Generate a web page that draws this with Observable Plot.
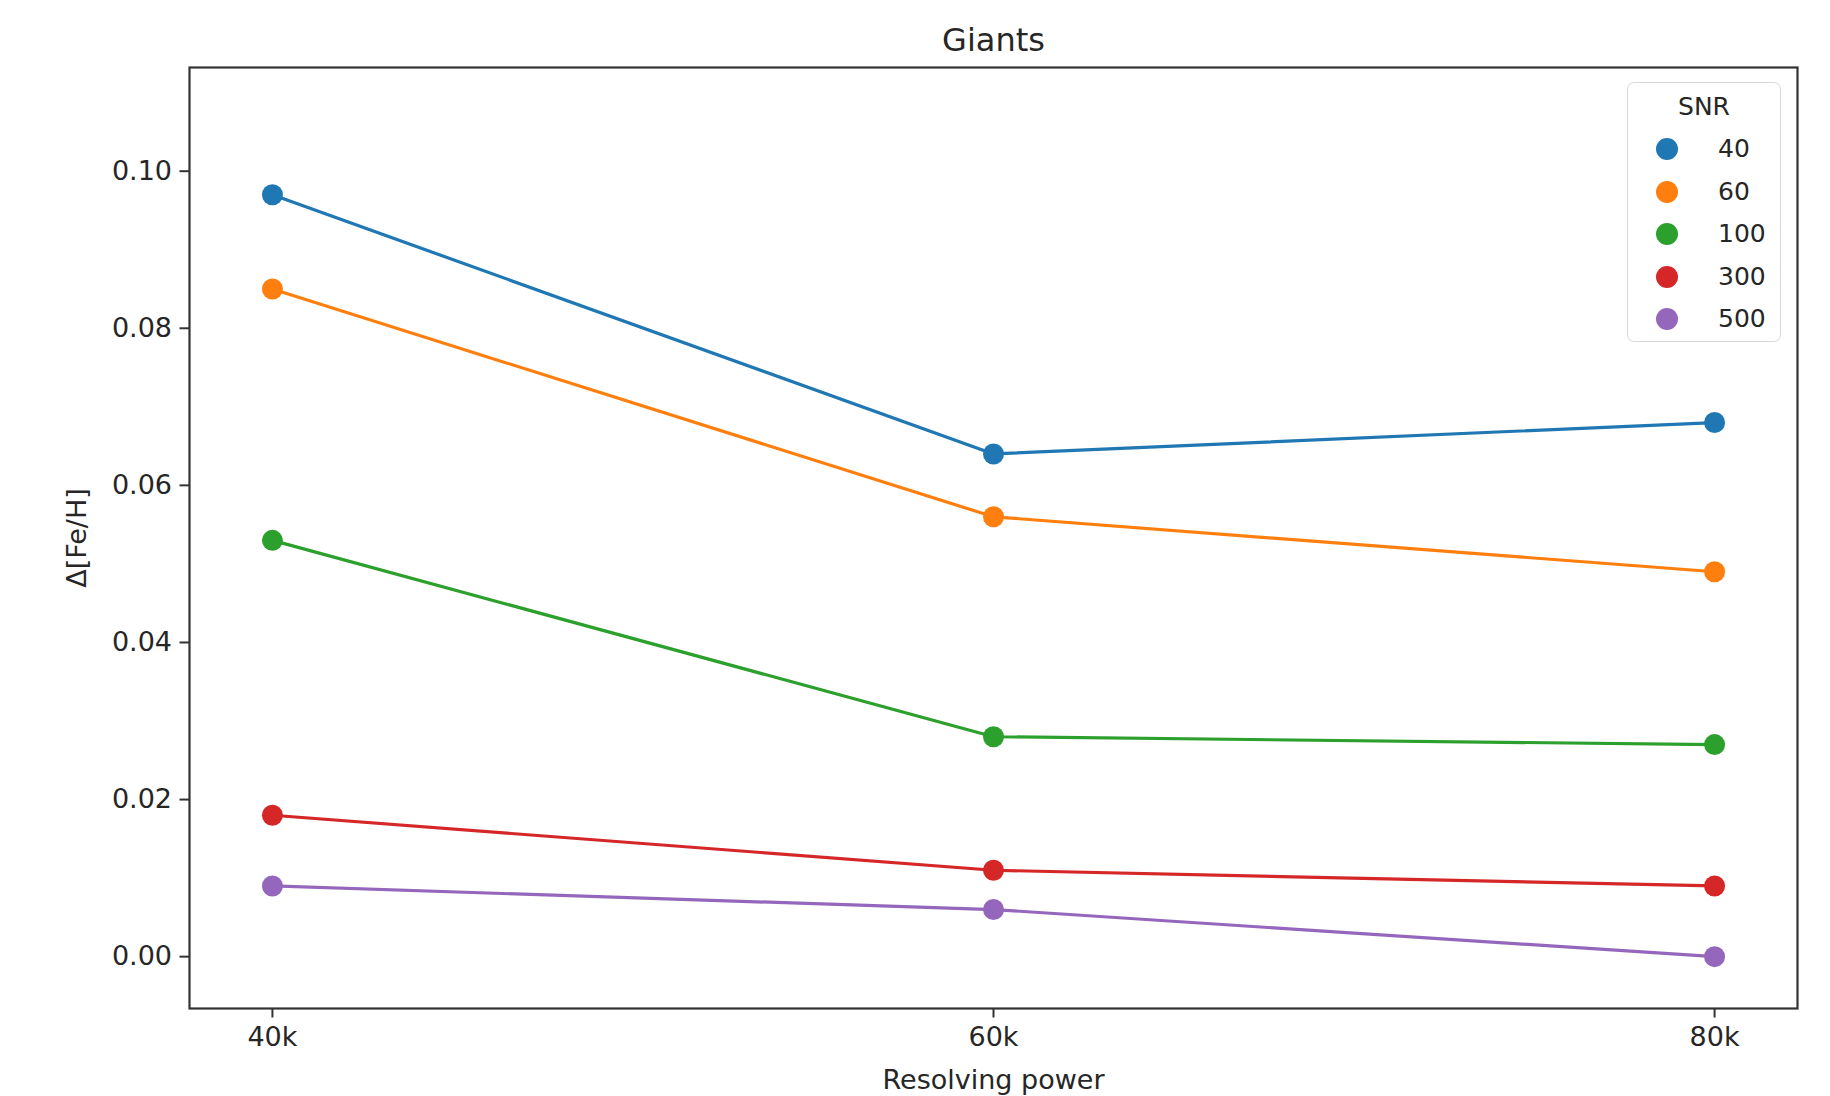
<!DOCTYPE html>
<html>
<head>
<meta charset="utf-8">
<script src="https://cdn.jsdelivr.net/npm/d3@7"></script>
<script src="https://cdn.jsdelivr.net/npm/@observablehq/plot@0.6"></script>
<style>
  html, body { margin: 0; padding: 0; background: #fff; }
  #wrap { position: relative; width: 1830px; height: 1096px; font-family: "DejaVu Sans", sans-serif; }
  #legend { position: absolute; left: 1627px; top: 82px; width: 154px; height: 260px;
    border: 1.5px solid #d6d6d6; border-radius: 7px; background: rgba(255,255,255,0.85); box-sizing: border-box; }
  #legend .ttl { position: absolute; left: 0; right: 0; top: 10px; text-align: center; font-size: 25px; color: #262626; line-height: 28px; }
  #legend .item { position: absolute; left: 0; right: 0; height: 30px; line-height: 30px; font-size: 25px; color: #262626; }
  #legend .dot { position: absolute; left: 28px; top: 4px; width: 22px; height: 22px; border-radius: 50%; }
  #legend .lab { position: absolute; left: 90px; }
</style>
</head>
<body>
<div id="wrap"><div id="legend"></div></div>
<script>
const resolvingPower = [40, 60, 80];
const xTickLabels = ["40k", "60k", "80k"];
const snrLevels = ["40", "60", "100", "300", "500"];
const colors = ["#1f77b4", "#ff7f0e", "#2ca02c", "#d62728", "#9467bd"];
const snr40  = [0.097, 0.064, 0.068];
const snr60  = [0.085, 0.056, 0.049];
const snr100 = [0.053, 0.028, 0.027];
const snr300 = [0.018, 0.011, 0.009];
const snr500 = [0.009, 0.006, 0.000];
const yTicks = [0, 0.02, 0.04, 0.06, 0.08, 0.10];

const seriesValues = [snr40, snr60, snr100, snr300, snr500];
const data = [];
snrLevels.forEach((s, i) => seriesValues[i].forEach((v, j) => data.push({snr: s, R: resolvingPower[j], dfe: v})));

const FONT = "DejaVu Sans";
const chart = Plot.plot({
  width: 1830,
  height: 1096,
  marginLeft: 189,
  marginRight: 33,
  marginTop: 67,
  marginBottom: 88,
  style: {fontFamily: FONT, fontSize: "27px", color: "#262626", background: "#fff"},
  x: {domain: [37700, 82300].map(d => d / 1000), ticks: resolvingPower, tickFormat: (d, i) => xTickLabels[resolvingPower.indexOf(d)]},
  y: {domain: [-0.0066, 0.1132], ticks: yTicks, tickFormat: d3.format(".2f")},
  color: {domain: snrLevels, range: colors},
  marks: [
    Plot.frame({stroke: "#333", strokeWidth: 2.2}),
    Plot.axisX({ticks: resolvingPower, tickFormat: (d) => xTickLabels[resolvingPower.indexOf(d)], tickSize: 9.5, tickPadding: 9, stroke: "#333", strokeWidth: 2, fontSize: 27, label: "Resolving power", labelAnchor: "center", labelOffset: 80, labelArrow: "none"}),
    Plot.axisY({ticks: yTicks, tickFormat: d3.format(".2f"), tickSize: 9.5, tickPadding: 8, stroke: "#333", strokeWidth: 2, fontSize: 27, label: "Δ[Fe/H]", labelAnchor: "center", labelOffset: 123, labelArrow: "none"}),
    Plot.line(data, {x: "R", y: "dfe", z: "snr", stroke: "snr", strokeWidth: 3.2}),
    Plot.dot(data, {x: "R", y: "dfe", fill: "snr", r: 10.5}),
    Plot.text(["Giants"], {frameAnchor: "top", dy: -39, fontSize: 32, fill: "#262626"})
  ]
});
const wrap = document.getElementById("wrap");
wrap.insertBefore(chart, wrap.firstChild);

const legend = document.getElementById("legend");
const t = document.createElement("div"); t.className = "ttl"; t.textContent = "SNR"; legend.appendChild(t);
snrLevels.forEach((s, i) => {
  const it = document.createElement("div"); it.className = "item"; it.style.top = (51 + i * 42.5) + "px";
  const d = document.createElement("span"); d.className = "dot"; d.style.background = colors[i];
  const l = document.createElement("span"); l.className = "lab"; l.textContent = s;
  it.appendChild(d); it.appendChild(l); legend.appendChild(it);
});
</script>
</body>
</html>
